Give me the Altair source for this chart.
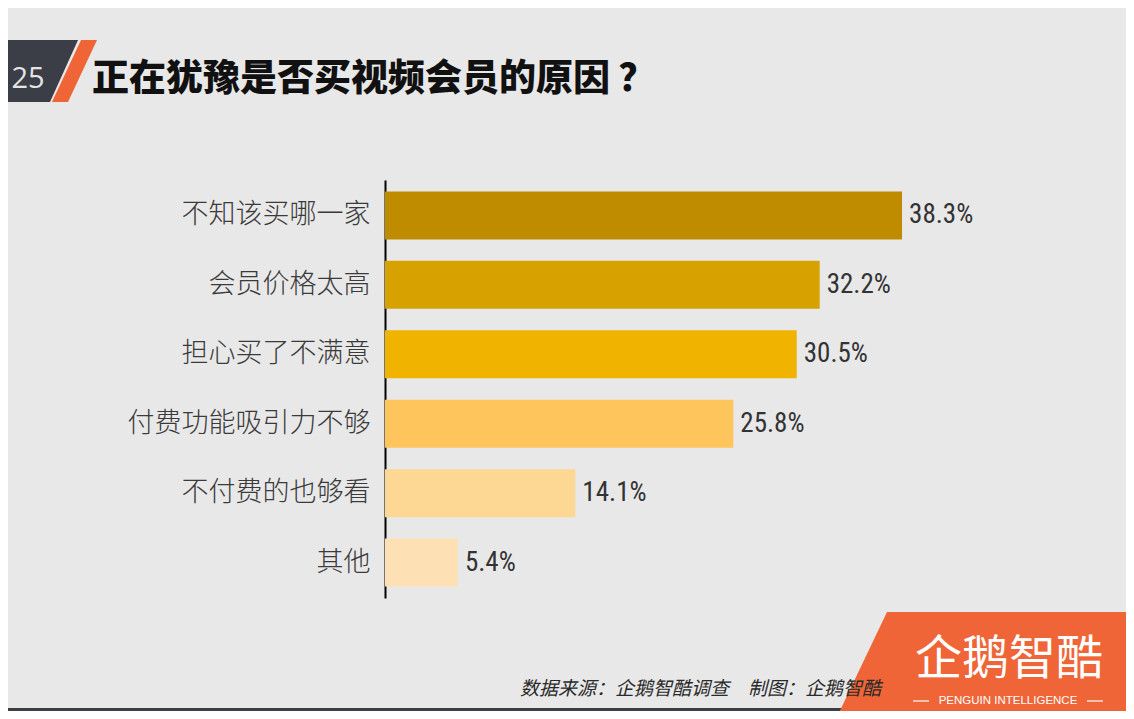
import altair as alt
import pandas as pd

categories = ["不知该买哪一家", "会员价格太高", "担心买了不满意", "付费功能吸引力不够", "不付费的也够看", "其他"]
values = [38.3, 32.2, 30.5, 25.8, 14.1, 5.4]
colors = ["#bf8c00", "#d7a200", "#f0b400", "#fec55c", "#fdd794", "#fde1b4"]

title_text = "正在犹豫是否买视频会员的原因 ？"
page_no = "25"
source_text = "数据来源：企鹅智酷调查\u3000制图：企鹅智酷"
logo_text = "企鹅智酷"
logo_sub = "PENGUIN  INTELLIGENCE"

df = pd.DataFrame({"reason": categories, "value": values})

CJK = "Noto Sans CJK SC"
NARROW = "Liberation Sans Narrow, Roboto Condensed, Open Sans Condensed, sans-serif"

# plot-area origin is at page (385, 180); decorations are placed relative to page (0,0)
OX, OY = -385, -180
one = alt.Data(values=[{"k": 1}])


def shape(path, color):
    return alt.Chart(one).mark_point(
        shape=path, filled=True, opacity=1, strokeWidth=0, color=color, size=4
    ).encode(x=alt.value(OX), y=alt.value(OY))


def label(text, px, py, **kw):
    return alt.Chart(one).mark_text(text=text, **kw).encode(
        x=alt.value(px + OX), y=alt.value(py + OY)
    )


dark_block = shape("M0,40 L78,40 L50,102 L0,102 Z", "#3b3e46")
slash = shape("M81,40 L97,40 L68,102 L52,102 Z", "#ef6537")
bottom_band = shape("M0,708 L842,708 L836,719 L0,719 Z", "#3b3e46")
orange_block = shape("M887,612 L1140,612 L1140,719 L836,719 Z", "#ef6537")

num = label(page_no, 28, 79, font="Open Sans", fontSize=29, color="#e4e4e4",
            align="center", baseline="middle")
title = label(title_text, 92, 80, font=CJK, fontSize=37, fontWeight=900,
              color="#111111", align="left", baseline="middle")
source = label(source_text, 881, 689, font=CJK, fontSize=19, fontStyle="italic",
               color="#2a2a2a", align="right", baseline="middle")
logo = label(logo_text, 1009, 660, font=CJK, fontSize=47, color="#ffffff",
             align="center", baseline="middle")
sub = label(logo_sub, 1008, 701, font="Liberation Sans", fontSize=11.5, color="#ffffff",
            align="center", baseline="middle")
line_l = alt.Chart(one).mark_rule(color="#ffffff", strokeWidth=1.2).encode(
    x=alt.value(913 + OX), x2=alt.value(929 + OX), y=alt.value(701 + OY)
)
line_r = alt.Chart(one).mark_rule(color="#ffffff", strokeWidth=1.2).encode(
    x=alt.value(1087 + OX), x2=alt.value(1103 + OX), y=alt.value(701 + OY)
)

base = alt.Chart(df).encode(
    y=alt.Y(
        "reason:N",
        sort=categories,
        scale=alt.Scale(paddingInner=0.308, paddingOuter=0.164),
        axis=alt.Axis(
            title=None,
            ticks=False,
            domain=True,
            domainColor="#000000",
            domainWidth=2,
            labelFont=CJK,
            labelFontSize=27,
            labelFontWeight=300,
            labelColor="#3a3a3a",
            labelPadding=15,
            labelLimit=400,
        ),
    ),
    x=alt.X("value:Q", scale=alt.Scale(domain=[0, 40]), axis=None),
)

bars = base.mark_bar().encode(
    color=alt.Color("reason:N", scale=alt.Scale(domain=categories, range=colors), legend=None)
)

texts = base.transform_calculate(
    lbl="format(datum.value, '.1f') + '%'"
).mark_text(
    align="left", baseline="middle", dx=7, font=NARROW, fontSize=27, color="#333333"
).encode(text="lbl:N")

chart = alt.layer(
    dark_block, slash, num, title, bottom_band, orange_block, source, logo, sub,
    line_l, line_r, bars, texts
).properties(
    width=540,
    height=418,
    padding={"left": 377, "top": 172, "right": 201, "bottom": 113},
    autosize=alt.AutoSizeParams(type="none"),
    background="#e8e8e8",
).configure_view(stroke=None)

chart.save("out.html", embed_options={"renderer": "svg", "actions": False})
